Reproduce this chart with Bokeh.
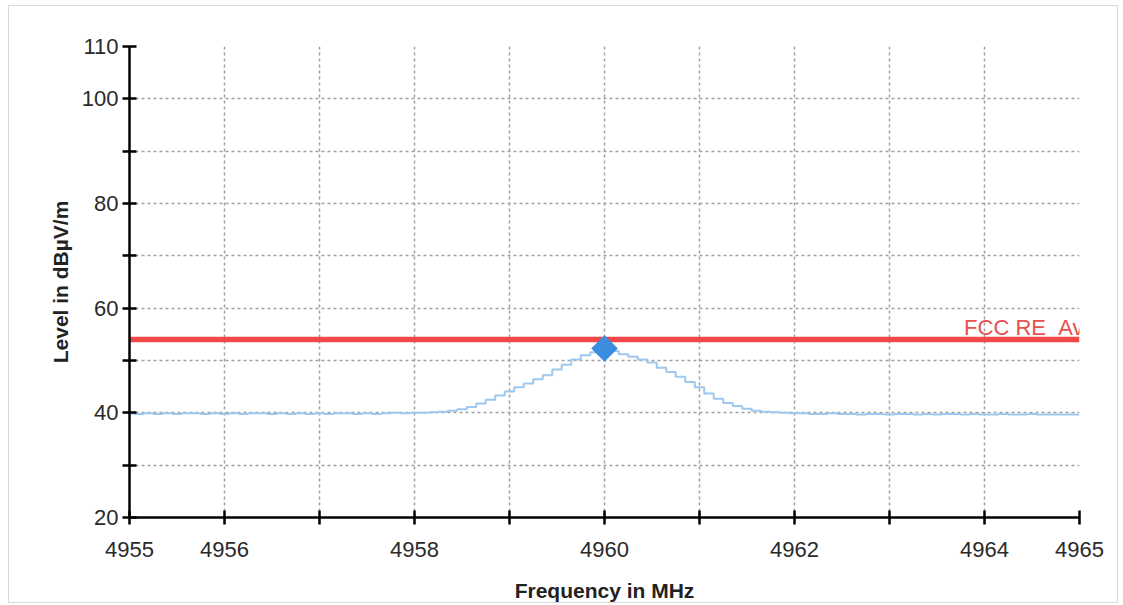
import math
from bokeh.plotting import figure
from bokeh.models import Range1d, FixedTicker, ColumnDataSource
from bokeh.core.properties import value
from bokeh.embed import file_html
from bokeh.resources import INLINE

# ---- data ----
freq_mhz = [
    4955.0, 4955.1, 4955.2, 4955.3, 4955.4, 4955.5, 4955.6, 4955.7, 4955.8, 4955.9,
    4956.0, 4956.1, 4956.2, 4956.3, 4956.4, 4956.5, 4956.6, 4956.7, 4956.8, 4956.9,
    4957.0, 4957.1, 4957.2, 4957.3, 4957.4, 4957.5, 4957.6, 4957.7, 4957.8, 4957.9,
    4958.0, 4958.1, 4958.2, 4958.3, 4958.4, 4958.5, 4958.6, 4958.7, 4958.8, 4958.9,
    4959.0, 4959.1, 4959.2, 4959.3, 4959.4, 4959.5, 4959.6, 4959.7, 4959.8, 4959.9,
    4960.0, 4960.1, 4960.2, 4960.3, 4960.4, 4960.5, 4960.6, 4960.7, 4960.8, 4960.9,
    4961.0, 4961.1, 4961.2, 4961.3, 4961.4, 4961.5, 4961.6, 4961.7, 4961.8, 4961.9,
    4962.0, 4962.1, 4962.2, 4962.3, 4962.4, 4962.5, 4962.6, 4962.7, 4962.8, 4962.9,
    4963.0, 4963.1, 4963.2, 4963.3, 4963.4, 4963.5, 4963.6, 4963.7, 4963.8, 4963.9,
    4964.0, 4964.1, 4964.2, 4964.3, 4964.4, 4964.5, 4964.6, 4964.7, 4964.8, 4964.9,
    4965.0,
]
level_dbuv = [
    39.9, 39.8, 39.9, 39.8, 39.9, 39.8, 39.9, 39.9, 39.8, 39.9,
    39.8, 39.9, 39.8, 39.9, 39.9, 39.8, 39.9, 39.8, 39.9, 39.8,
    39.9, 39.8, 39.9, 39.9, 39.8, 39.9, 39.8, 39.9, 40.0, 39.9,
    40.0, 40.0, 40.1, 40.2, 40.4, 40.7, 41.1, 41.8, 42.5, 43.3,
    44.1, 44.9, 45.6, 46.4, 47.2, 48.3, 49.2, 50.2, 51.0, 51.6,
    52.3, 51.8, 51.2, 50.7, 50.2, 49.6, 48.6, 47.8, 46.9, 45.9,
    44.9, 43.7, 42.7, 41.9, 41.3, 40.8, 40.4, 40.2, 40.1, 40.0,
    39.9, 39.9, 39.8, 39.8, 39.9, 39.8, 39.8, 39.7, 39.8, 39.8,
    39.7, 39.8, 39.8, 39.7, 39.8, 39.7, 39.8, 39.8, 39.7, 39.8,
    39.7, 39.7, 39.8, 39.7, 39.7, 39.8, 39.7, 39.7, 39.7, 39.7,
    39.7,
]
peak_freq = [4960.0]
peak_level = [52.3]

limit_label = "FCC RE_Av"
limit_value = 54.0

x_ticks = [4955, 4956, 4957, 4958, 4959, 4960, 4961, 4962, 4963, 4964, 4965]
x_tick_labels = ["4955", "4956", "", "4958", "", "4960", "", "4962", "", "4964", "4965"]
y_ticks = [20, 30, 40, 50, 60, 70, 80, 90, 100, 110]
y_tick_labels = ["20", "", "40", "", "60", "", "80", "", "100", "110"]

x_title = "Frequency in MHz"
y_title = "Level in dB\u00b5V/m"

# ---- figure ----
FONT = "Liberation Sans"
p = figure(width=1110, height=598, output_backend="svg", toolbar_location=None,
           x_range=Range1d(x_ticks[0], x_ticks[-1]), y_range=Range1d(y_ticks[0], y_ticks[-1]),
           min_border_left=120, min_border_right=40, min_border_top=40, min_border_bottom=87)
p.styles = {"border": "1px solid #d9d9d9", "margin-left": "8px", "margin-top": "5px"}
p.outline_line_color = None
p.background_fill_color = "white"
p.border_fill_color = "white"

p.xaxis.ticker = FixedTicker(ticks=x_ticks)
p.yaxis.ticker = FixedTicker(ticks=y_ticks)
p.xaxis.major_label_overrides = {t: s for t, s in zip(x_ticks, x_tick_labels)}
p.yaxis.major_label_overrides = {t: s for t, s in zip(y_ticks, y_tick_labels)}
p.xaxis.minor_tick_line_color = None
p.yaxis.minor_tick_line_color = None

for ax in (p.xaxis[0], p.yaxis[0]):
    ax.axis_line_color = "black"
    ax.axis_line_width = 2.5
    ax.major_tick_line_color = "black"
    ax.major_tick_line_width = 2.5
    ax.major_tick_in = 7
    ax.major_tick_out = 7
    ax.major_label_text_font = FONT
    ax.major_label_text_font_size = "22px"
    ax.major_label_text_color = "#2a2a2a"
    ax.axis_label_text_font = FONT
    ax.axis_label_text_font_size = "21px"
    ax.axis_label_text_font_style = "bold"
    ax.axis_label_text_color = "#222222"

p.xaxis.axis_label = x_title
p.yaxis.axis_label = y_title
p.xaxis.major_label_standoff = 17
p.yaxis.major_label_standoff = 4
p.xaxis.axis_label_standoff = 19
p.yaxis.axis_label_standoff = 7

for g in (p.xgrid[0], p.ygrid[0]):
    g.grid_line_color = "#a0a0a0"
    g.grid_line_dash = "3 3"
    g.grid_line_width = 1.5

# trace
p.step(freq_mhz, level_dbuv, mode="center", line_color="#9fc8f0", line_width=2)

# limit line
p.line([x_ticks[0], x_ticks[-1]], [limit_value, limit_value], line_color="#f24848", line_width=5.5)
lim_src = ColumnDataSource(dict(x=[x_ticks[-1]], y=[limit_value], t=[limit_label]))
p.text(x="x", y="y", text="t", source=lim_src, text_align="right", text_baseline="bottom",
       x_offset=4, y_offset=0, text_color="#e8504e", text_font=value(FONT), text_font_size="22px")

# peak marker
p.scatter(peak_freq, peak_level, marker="square", size=18, angle=45, angle_units="deg",
          fill_color="#3a8ddf", line_color="#3a8ddf")

open("out.html", "w").write(file_html(p, INLINE))
